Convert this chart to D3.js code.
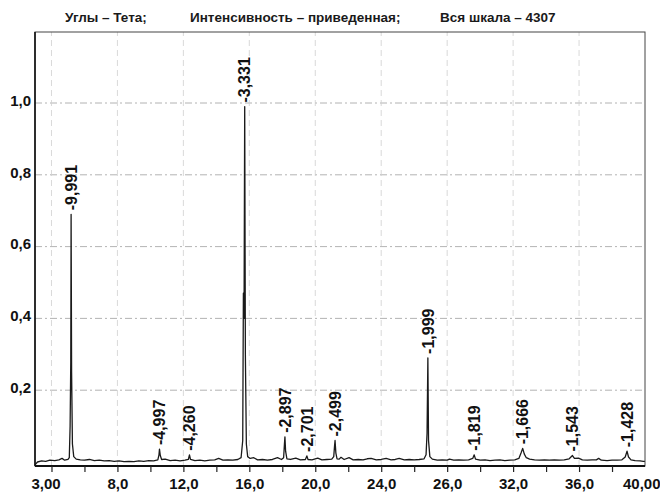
<!DOCTYPE html>
<html>
<head>
<meta charset="utf-8">
<script src="https://cdn.jsdelivr.net/npm/d3@7"></script>
<style>
  html, body { margin: 0; padding: 0; background: #fff; }
  svg { display: block; font-family: "Liberation Sans", Arial, sans-serif; }
  .title { font-size: 13.5px; font-weight: bold; fill: #1a1a1a; }
  .axis text { font-size: 15px; font-weight: bold; fill: #111; font-family: "Liberation Sans", Arial, sans-serif; }
  .peak-label { font-size: 16px; font-weight: bold; fill: #111; }
</style>
</head>
<body>
<div id="graph-container"></div>
<script>
// labels along the bottom (angle, theta)
var xLabelAt = [3, 8, 12, 16, 20, 24, 28, 32, 36, 40];
var xTickLabels = ["3,00", "8,0", "12,0", "16,0", "20,0", "24,0", "26,0", "32,0", "36,0", "40,00"];
var xMinorTicks = [4, 6, 8, 10, 12, 14, 16, 18, 20, 22, 24, 26, 28, 30, 32, 34, 36, 38];
var xGrid = [4, 8, 12, 16, 20, 24, 28, 32, 36];

// intensity axis
var yTickValues = [0.2, 0.4, 0.6, 0.8, 1.0];
var yTickLabels = ["0,2", "0,4", "0,6", "0,8", "1,0"];

// marked reflections: angle, relative height, d-spacing label
var peakTheta = [5.19, 10.55, 12.37, 15.72, 18.16, 19.49, 21.20, 26.83, 29.64, 32.58, 35.60, 38.91];
var peakTop = [0.69, 0.036, 0.02, 0.99, 0.07, 0.017, 0.06, 0.29, 0.02, 0.038, 0.018, 0.03];
var peakLabels = ["-9,991", "-4,997", "-4,260", "-3,331", "-2,897", "-2,701", "-2,499", "-1,999", "-1,819", "-1,666", "-1,543", "-1,428"];

var scanTheta = [
  3.00, 3.15, 3.40, 3.65, 3.90, 4.20, 4.45, 4.64, 4.80, 5.00, 5.08, 5.13, 5.17, 5.19, 5.22, 5.27, 5.35, 5.50, 5.75,
  6.00, 6.30, 6.60, 6.90, 7.20, 7.50, 7.80, 8.10, 8.40, 8.70, 9.00, 9.30, 9.60, 9.90, 10.20, 10.45, 10.52, 10.55,
  10.60, 10.68, 10.90, 11.20, 11.50, 11.80, 12.10, 12.30, 12.37, 12.43, 12.70, 13.00, 13.30, 13.60, 13.90, 14.14,
  14.40, 14.70, 15.00, 15.30, 15.50, 15.60, 15.64, 15.68, 15.72, 15.76, 15.82, 15.90, 16.05, 16.27, 16.50, 16.80,
  17.10, 17.40, 17.71, 17.95, 18.08, 18.13, 18.16, 18.20, 18.28, 18.50, 18.82, 19.10, 19.40, 19.49, 19.56, 19.80,
  20.15, 20.40, 20.70, 21.00, 21.12, 21.17, 21.20, 21.25, 21.32, 21.45, 21.56, 21.75, 22.05, 22.30, 22.60, 22.90,
  23.15, 23.39, 23.70, 24.00, 24.30, 24.60, 24.85, 25.09, 25.40, 25.70, 26.00, 26.30, 26.60, 26.72, 26.78, 26.83,
  26.87, 26.95, 27.10, 27.40, 27.70, 28.00, 28.14, 28.40, 28.70, 29.00, 29.30, 29.55, 29.64, 29.72, 30.00, 30.30,
  30.60, 30.90, 31.20, 31.50, 31.80, 32.10, 32.35, 32.48, 32.58, 32.68, 32.80, 33.00, 33.30, 33.60, 33.90, 34.20,
  34.50, 34.80, 35.10, 35.40, 35.60, 35.72, 35.97, 36.20, 36.50, 36.80, 37.05, 37.19, 37.35, 37.70, 38.00, 38.30,
  38.60, 38.80, 38.91, 39.00, 39.15, 39.40, 39.70, 39.90, 40.00
];
var scanIntensity = [
  -0.008, 0.000, 0.003, 0.002, 0.005, 0.004, 0.006, 0.010, 0.005, 0.007, 0.012, 0.10, 0.28, 0.69, 0.25, 0.05, 0.015, 0.008, 0.006,
  0.005, 0.007, 0.004, 0.005, 0.003, 0.004, 0.002, 0.003, 0.001, 0.002, 0.001, 0.003, 0.002, 0.004, 0.003, 0.006, 0.020, 0.036,
  0.018, 0.007, 0.008, 0.004, 0.005, 0.003, 0.005, 0.007, 0.020, 0.007, 0.004, 0.005, 0.003, 0.005, 0.006, 0.010,
  0.005, 0.006, 0.005, 0.007, 0.012, 0.06, 0.47, 0.40, 0.99, 0.30, 0.05, 0.015, 0.010, 0.012, 0.006, 0.007,
  0.005, 0.007, 0.012, 0.007, 0.012, 0.05, 0.07, 0.03, 0.009, 0.007, 0.011, 0.006, 0.007, 0.017, 0.007, 0.006,
  0.011, 0.006, 0.007, 0.008, 0.015, 0.045, 0.06, 0.025, 0.009, 0.008, 0.013, 0.007, 0.012, 0.006, 0.007, 0.006,
  0.009, 0.010, 0.006, 0.007, 0.010, 0.006, 0.007, 0.010, 0.006, 0.007, 0.006, 0.007, 0.009, 0.020, 0.08, 0.29,
  0.06, 0.015, 0.008, 0.005, 0.006, 0.005, 0.008, 0.005, 0.006, 0.005, 0.006, 0.010, 0.020, 0.008, 0.005, 0.006,
  0.004, 0.005, 0.006, 0.004, 0.005, 0.006, 0.010, 0.025, 0.038, 0.022, 0.012, 0.008, 0.006, 0.005, 0.006, 0.005,
  0.006, 0.005, 0.006, 0.009, 0.018, 0.010, 0.011, 0.006, 0.005, 0.006, 0.006, 0.010, 0.005, 0.004, 0.005, 0.005,
  0.006, 0.014, 0.030, 0.014, 0.006, 0.004, 0.003, 0.002, 0.002
];

(function () {
  "use strict";
  window.XRD = window.XRD || {};
  window.XRD.chart = {
    width: 660,
    height: 495,
    frame: { left: 35, right: 645, top: 32, bottom: 466 },
    svg: {},
    x: {},
    y: {},

    initialize: function () {
      this.svg = d3.select("#graph-container").append("svg")
        .attr("width", this.width).attr("height", this.height);

      this.x = d3.scaleLinear().domain([3, 40]).range([this.frame.left, this.frame.right]);
      // zero sits a little above the bottom frame line
      this.y = d3.scaleLinear().domain([0, 1]).range([462, 103]);

      this.buildTitle();
      this.buildGrid();
      this.buildTrace();
      this.buildFrame();
      this.buildAxes();
      this.buildPeakLabels();
    },

    buildTitle: function () {
      var t = this.svg.append("g").attr("class", "title");
      t.append("text").attr("x", 65).attr("y", 22).text("Углы – Тета;");
      t.append("text").attr("x", 190).attr("y", 22).text("Интенсивность – приведенная;");
      t.append("text").attr("x", 440).attr("y", 22).text("Вся шкала – 4307");
    },

    buildGrid: function () {
      var x = this.x, y = this.y, f = this.frame;

      this.svg.append("g").selectAll("line")
        .data(yTickValues).enter().append("line")
        .attr("x1", f.left).attr("x2", f.right)
        .attr("y1", function (d) { return y(d); })
        .attr("y2", function (d) { return y(d); })
        .attr("stroke", "#a0a0a0").attr("stroke-width", 0.8)
        .attr("stroke-dasharray", "7,3,2,3");

      this.svg.append("g").selectAll("line")
        .data(xGrid).enter().append("line")
        .attr("x1", function (d) { return x(d); })
        .attr("x2", function (d) { return x(d); })
        .attr("y1", f.bottom).attr("y2", f.top)
        .attr("stroke", "#cfcfcf").attr("stroke-width", 0.8)
        .attr("stroke-dasharray", "6,4");
    },

    buildTrace: function () {
      var x = this.x, y = this.y;
      var points = d3.zip(scanTheta, scanIntensity);
      var line = d3.line()
        .x(function (d) { return x(d[0]); })
        .y(function (d) { return y(d[1]); });

      this.svg.append("path").datum(points)
        .attr("d", line)
        .attr("fill", "none")
        .attr("stroke", "#1a1a1a")
        .attr("stroke-width", 1.3)
        .attr("stroke-linejoin", "round");
    },

    buildFrame: function () {
      var f = this.frame;
      this.svg.append("rect")
        .attr("x", f.left).attr("y", f.top)
        .attr("width", f.right - f.left).attr("height", f.bottom - f.top)
        .attr("fill", "none").attr("stroke", "#444").attr("stroke-width", 1);
      this.svg.append("line")
        .attr("x1", f.left).attr("x2", f.left).attr("y1", f.top).attr("y2", f.bottom)
        .attr("stroke", "#111").attr("stroke-width", 1.6);
      this.svg.append("line")
        .attr("x1", f.left).attr("x2", f.right).attr("y1", f.bottom).attr("y2", f.bottom)
        .attr("stroke", "#111").attr("stroke-width", 2);
    },

    buildAxes: function () {
      var f = this.frame;

      // short ticks under the base line
      this.svg.append("g").attr("class", "axis")
        .attr("transform", "translate(0," + f.bottom + ")")
        .call(d3.axisBottom(this.x).tickValues(xMinorTicks).tickSize(6).tickFormat(""))
        .call(function (g) {
          g.select(".domain").remove();
          g.selectAll(".tick line").attr("stroke", "#222").attr("stroke-width", 1.2);
        });

      var xLabels = this.svg.append("g").attr("class", "axis")
        .attr("transform", "translate(0," + f.bottom + ")")
        .call(d3.axisBottom(this.x).tickValues(xLabelAt).tickSize(0).tickPadding(12)
          .tickFormat(function (d, i) { return xTickLabels[i]; }));
      xLabels.select(".domain").remove();
      xLabels.selectAll(".tick text")
        .filter(function (d) { return d === 3; })
        .attr("text-anchor", "start").attr("dx", -4);
      xLabels.selectAll(".tick text")
        .filter(function (d) { return d === 40; })
        .attr("text-anchor", "end").attr("dx", 15);

      var yAxis = this.svg.append("g").attr("class", "axis")
        .attr("transform", "translate(" + f.left + ",0)")
        .call(d3.axisLeft(this.y).tickValues(yTickValues).tickSize(0).tickPadding(4)
          .tickFormat(function (d, i) { return yTickLabels[i]; }));
      yAxis.select(".domain").remove();
      yAxis.selectAll(".tick text").attr("dy", "0.15em");
    },

    buildPeakLabels: function () {
      var x = this.x, y = this.y;
      this.svg.append("g").selectAll("text")
        .data(peakTheta).enter().append("text")
        .attr("class", "peak-label")
        .attr("transform", function (d, i) {
          return "translate(" + x(d) + "," + (y(peakTop[i]) - 4) + ") rotate(-90)";
        })
        .attr("dy", "0.36em")
        .attr("text-anchor", "start")
        .text(function (d, i) { return peakLabels[i]; });
    }
  };

  window.XRD.chart.initialize();
}());
</script>
</body>
</html>
